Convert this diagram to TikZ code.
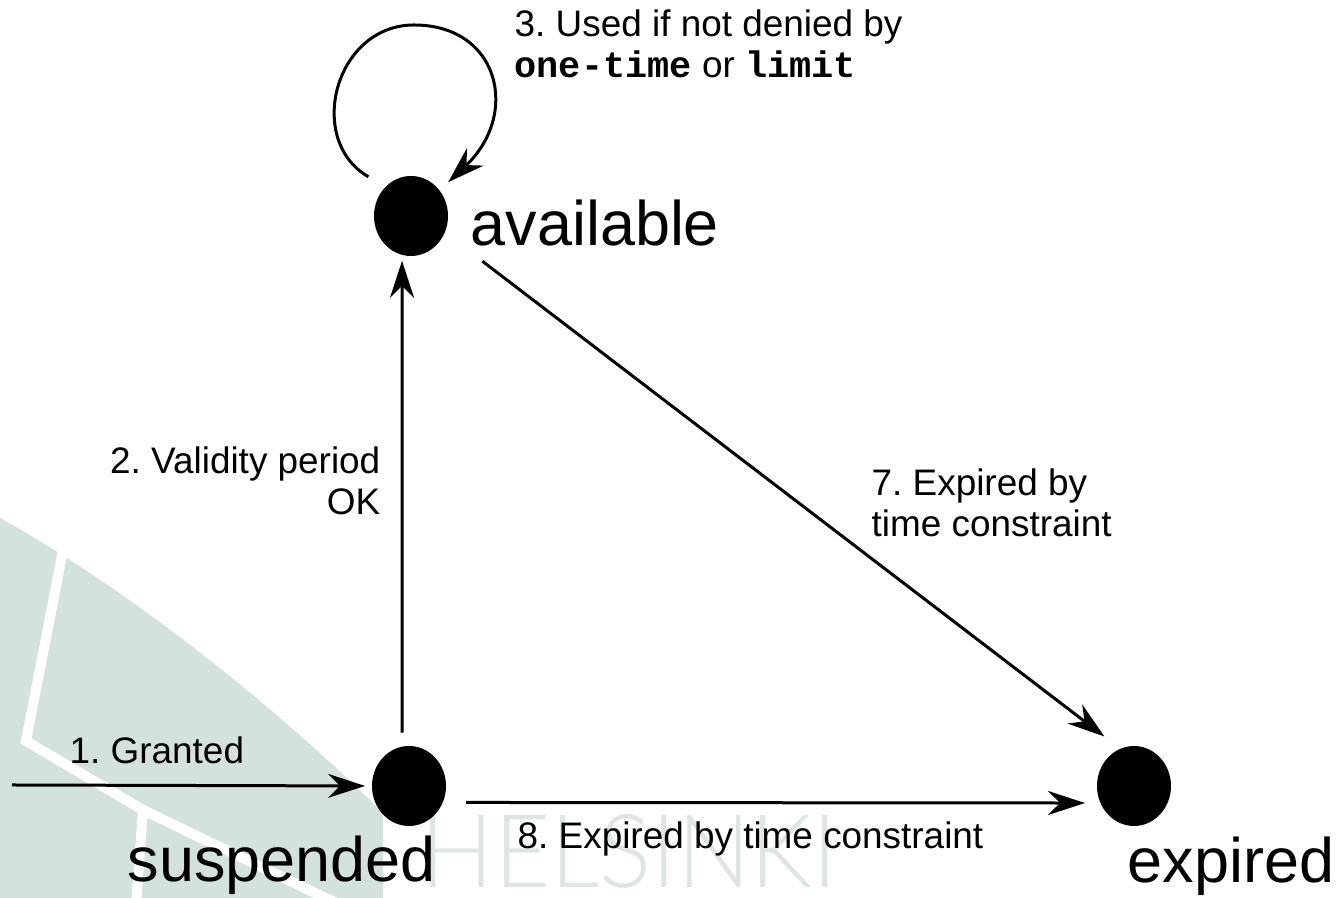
\documentclass[tikz,border=0pt]{standalone}
\usepackage{fontspec}
\setmainfont{Liberation Sans}
\setmonofont{Liberation Mono}
\newfontfamily\wmfont{Lato Light}[FakeStretch=0.955]
\usetikzlibrary{arrows.meta,shapes.geometric}
\definecolor{wmgreen}{HTML}{D3E2DA}
\definecolor{wmgrey}{HTML}{DEE5E3}
\frenchspacing
\begin{document}
\begin{tikzpicture}[x=0.1mm,y=-0.1mm,
  state/.style={ellipse,fill=black,inner sep=0pt,outer sep=0pt,
    minimum width=7.4mm,minimum height=8mm},
  big/.style={font=\fontsize{17.9}{20}\selectfont,inner sep=0pt,anchor=base west},
  lbl/.style={font=\fontsize{10.5}{11.7}\selectfont,inner sep=0pt},
  edge/.style={line width=0.3mm,
    -{Stealth[length=3.7mm,width=2.4mm,inset=1.2mm]}},
]
\useasboundingbox (0,0) rectangle (1340,898);

% background emblem
\fill[wmgreen] (0,518) .. controls (130,590) and (280,710) .. (383,813)
  -- (383,898) -- (0,898) -- cycle;
\draw[white,line width=1mm,line join=miter]
  (66,535) -- (26,741) -- (143,810) -- (340,905);
\draw[white,line width=1mm] (143,810) -- (136,905);
\node[anchor=base west,inner sep=0pt,text=wmgrey,
  font=\wmfont\fontsize{29}{29}\selectfont] (wm) at (420,888) {HELSINKI};

% states
\node[state] (av) at (411,216) {};
\node[state] (su) at (409,786) {};
\node[state] (ex) at (1134,786) {};

\node[big] (avl) at (470,246) {available};
\node[big] (sul) at (127,882) {suspended};
\node[big] (exl) at (1127,883) {expired};

% transitions
\coordinate (start) at (12,785);
\coordinate (looptop) at (414,25);
\draw[edge,shorten >=0.7mm] (start) -- (su.west);
\draw[edge,shorten <=1.4mm,shorten >=0.6mm] (su.100) -- (av.-103);
\draw[edge,shorten <=2.35mm,shorten >=1.55mm] (su.-26.9) -- (ex.-153.1);
\draw[edge,shorten <=4.74mm,shorten >=2.02mm] (av.-26) -- (ex.110.6);
\draw[edge,shorten <=2.0mm,shorten >=1.2mm]
  (av.131.5) .. controls (305,140) and (335,25) .. (looptop)
  .. controls (500,25) and (520,115) .. (av.42.6);

% transition labels
\node[lbl,anchor=base west] (l1) at (69,764) {1. Granted};
\node[lbl,anchor=base east] (l2a) at (381,474) {2. Validity period};
\node[lbl,anchor=base east] (l2b) at (381,515) {OK};
\node[lbl,anchor=base west] (l3a) at (514,37) {3. Used if not denied by};
\node[lbl,anchor=base west] (l3b) at (514,78)
  {{\ttfamily\bfseries one-time} or {\ttfamily\bfseries limit}};
\node[lbl,anchor=base west] (l7a) at (871,496) {7. Expired by};
\node[lbl,anchor=base west] (l7b) at (871,537) {time constraint};
\node[lbl,anchor=base west] (l8) at (517,849) {8. Expired by time constraint};
\end{tikzpicture}
\end{document}
